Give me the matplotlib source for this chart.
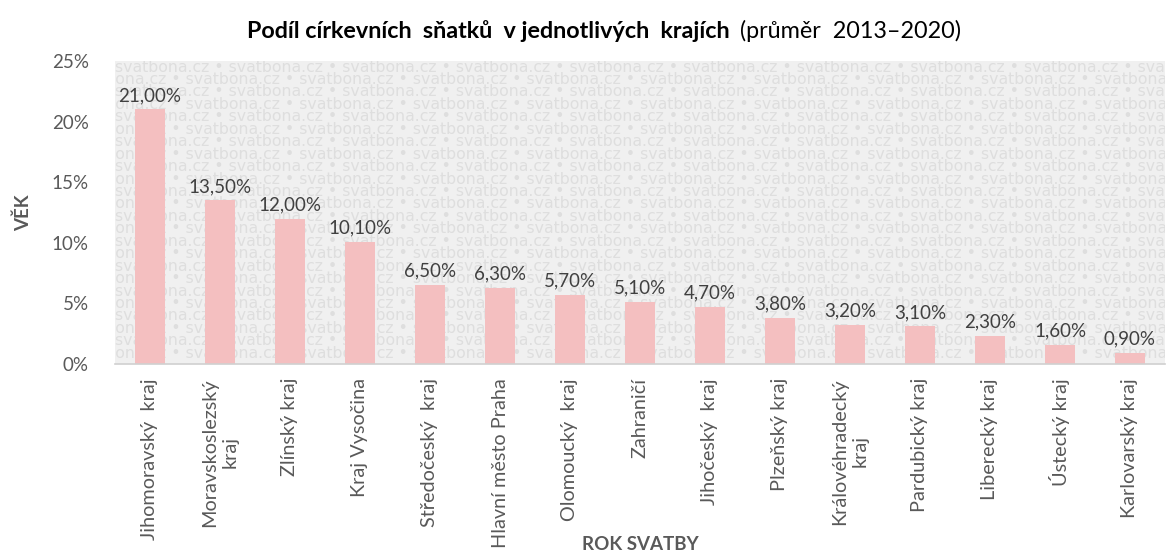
import matplotlib.pyplot as plt
from matplotlib.ticker import FuncFormatter

regions = [
    "Jihomoravský  kraj",
    "Moravskoslezský\nkraj",
    "Zlínský kraj",
    "Kraj Vysočina",
    "Středočeský  kraj",
    "Hlavní město Praha",
    "Olomoucký  kraj",
    "Zahraničí",
    "Jihočeský  kraj",
    "Plzeňský kraj",
    "Královéhradecký\nkraj",
    "Pardubický kraj",
    "Liberecký kraj",
    "Ústecký kraj",
    "Karlovarský kraj",
]
share = [21.0, 13.5, 12.0, 10.1, 6.5, 6.3, 5.7, 5.1, 4.7, 3.8, 3.2, 3.1, 2.3, 1.6, 0.9]
y_ticks = [0, 5, 10, 15, 20, 25]

BAR = "#F4BFC0"
TXT = "#595959"
FONT = ["Lato", "DejaVu Sans"]

W, H = 1167, 553
fig = plt.figure(figsize=(W / 100, H / 100), dpi=100)
fig.patch.set_facecolor("white")
ax = fig.add_axes([115 / W, (H - 364) / H, 1050 / W, (364 - 61) / H])
ax.set_facecolor("#F0F0F0")

x = list(range(len(regions)))
ax.bar(x, share, width=0.42, color=BAR, zorder=3)
ax.set_xlim(-0.5, len(regions) - 0.5)
ax.set_ylim(0, 25)

# watermark rows
wm = " • ".join(["svatbona.cz"] * 12)
n_rows = 24
for i in range(n_rows):
    yy = 1 - (6 + i * 12.45) / 303
    xo = 0.0 if i % 2 == 0 else -43 / 1050
    ax.text(xo, yy, wm, transform=ax.transAxes, fontsize=11.3, family="DejaVu Sans",
            color="#DEDEDE", va="center", ha="left", clip_on=True, zorder=1)

for s in ["top", "right", "left"]:
    ax.spines[s].set_visible(False)
ax.spines["bottom"].set_color("#D0D0D0")
ax.spines["bottom"].set_linewidth(1.2)
ax.spines["bottom"].set_zorder(4)

ax.set_yticks(y_ticks)
ax.yaxis.set_major_formatter(FuncFormatter(lambda v, p: f"{v:.0f}%"))
ax.tick_params(axis="y", length=0, pad=19, labelsize=13.5, labelcolor=TXT)
ax.set_xticks(x)
ax.set_xticklabels(regions, rotation=90, va="top", ha="center", multialignment="center",
                   fontsize=14.3, color=TXT, family=FONT)
ax.tick_params(axis="x", length=0, pad=10)
for lab in ax.get_yticklabels():
    lab.set_family(FONT)

for xi, v in zip(x, share):
    ax.text(xi, v + 0.45, f"{v:.2f}%".replace(".", ","), ha="center", va="bottom",
            fontsize=13.5, color="#404040", family=FONT, zorder=5)

fig.text(23 / W, 1 - 213 / H, "VĚK", rotation=90, ha="center", va="center",
         fontsize=13.5, weight="bold", color=TXT, family=FONT)
fig.text(640 / W, 1 - 544 / H, "ROK SVATBY", ha="center", va="center",
         fontsize=13.5, weight="bold", color=TXT, family=FONT)

# title: bold part + regular part, centred together
t1 = fig.text(0, 1 - 31 / H, "Podíl církevních  sňatků  v jednotlivých  krajích", ha="left",
              va="center", fontsize=16.8, weight="bold", color="black", family=FONT)
t2 = fig.text(0, 1 - 31 / H, "(průměr  2013–2020)", ha="left", va="center",
              fontsize=16.8, color="black", family=FONT)
fig.canvas.draw()
r = fig.canvas.get_renderer()
w1 = t1.get_window_extent(r).width
w2 = t2.get_window_extent(r).width
gap = 11
start = 604 - (w1 + gap + w2) / 2
t1.set_x(start / W)
t2.set_x((start + w1 + gap) / W)

fig.savefig("out.png", dpi=100)
